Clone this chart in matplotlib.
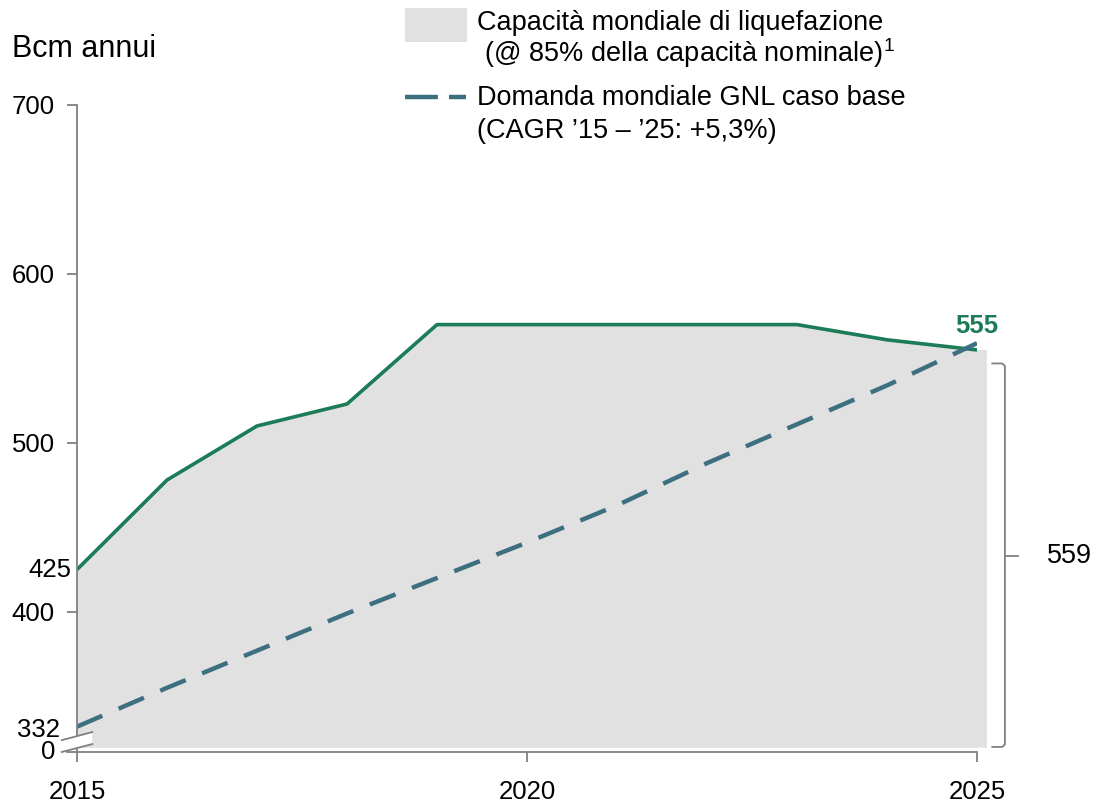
import matplotlib.pyplot as plt
from matplotlib.patches import Polygon

plt.rcParams['font.family'] = ['Liberation Sans', 'DejaVu Sans']
plt.rcParams['mathtext.fontset'] = 'custom'
plt.rcParams['mathtext.rm'] = 'Liberation Sans'
plt.rcParams['mathtext.default'] = 'regular'

years = [2015, 2016, 2017, 2018, 2019, 2020, 2021, 2022, 2023, 2024, 2025]
capacity = [425, 478, 510, 523, 570, 570, 570, 570, 570, 561, 555]
demand = [332, 355, 377, 399, 420, 441, 463, 488, 511, 534, 559]
y_ticks = [400, 500, 600, 700]
x_ticks = [2015, 2020, 2025]

green = '#1b7c57'
blue = '#3e6f81'
fill_c = '#e1e1e1'
axis_c = '#808080'
ybot = 317
fs = 18.5

fig = plt.figure(figsize=(10.95, 8.02), dpi=100)
ax = fig.add_axes([77 / 1095, 1 - 752 / 802, 900 / 1095, 647 / 802])
ax.set_xlim(2015, 2025)
ax.set_ylim(ybot, 700)

# gray capacity area, slightly past 2025
fx = years + [2025.11, 2025.11]
fy = capacity + [capacity[-1], 319.5]
poly = Polygon(list(zip(fx, fy)) + [(2015, 319.5)], closed=True, facecolor=fill_c,
               edgecolor='none', clip_on=False, zorder=1)
ax.add_patch(poly)

ax.plot(years, capacity, color=green, lw=2.6, zorder=3, solid_capstyle='butt')
ax.plot(years, demand, color=blue, lw=3.2, dashes=(6.2, 4), zorder=4)

for s in ['top', 'right']:
    ax.spines[s].set_visible(False)
ax.spines['left'].set_color(axis_c)
ax.spines['bottom'].set_color(axis_c)
ax.spines['left'].set_linewidth(1.3)
ax.spines['bottom'].set_linewidth(1.3)
ax.spines['left'].set_zorder(5)
ax.spines['bottom'].set_bounds(2014.89, 2025)

ax.set_yticks(y_ticks)
ax.set_yticklabels([str(v) for v in y_ticks], fontsize=fs)
ax.set_xticks(x_ticks)
ax.set_xticklabels([str(v) for v in x_ticks], fontsize=fs)
ax.tick_params(axis='y', length=7, width=1.3, color=axis_c, pad=9)
ax.tick_params(axis='x', length=7, width=1.3, color=axis_c, pad=13)

# extra y labels
ax.text(2014.94, capacity[0], str(capacity[0]), ha='right', va='center', fontsize=fs)
ax.text(2014.81, demand[0] - 2, str(demand[0]), ha='right', va='center', fontsize=fs)
ax.text(2014.76, ybot, '0', ha='right', va='center', fontsize=fs)

# axis break
bx = [2014.83, 2015.17]
brk = Polygon([(bx[0], 324.0), (bx[1], 328.8), (bx[1], 321.7), (bx[0], 317.0)],
              closed=True, facecolor='white', edgecolor='none', clip_on=False, zorder=6)
ax.add_patch(brk)
ax.plot(bx, [324.0, 328.8], color=axis_c, lw=1.3, clip_on=False, zorder=7)
ax.plot(bx, [317.0, 321.7], color=axis_c, lw=1.3, clip_on=False, zorder=7)

# end labels
ax.text(2025, 569, str(capacity[-1]), color=green, fontsize=fs,
        fontweight='bold', ha='center', va='center')

# bracket
bxr, bxl, bxm = 2025.31, 2025.17, 2025.46
btop, bbot = 547.0, 320.0
bmid = 433
ax.plot([bxl, bxr - 0.03, bxr, bxr, bxr - 0.03, bxl], [btop, btop, btop - 1.5, bbot + 1.5, bbot, bbot],
        color=axis_c, lw=1.3, clip_on=False)
ax.plot([bxr, bxm], [bmid, bmid], color=axis_c, lw=1.3, clip_on=False)
ax.text(2025.78, bmid, str(demand[-1]), fontsize=19.5, ha='left', va='center')

# unit label
fig.text(12 / 1095, 1 - 49 / 802, 'Bcm annui', fontsize=22, ha='left', va='center')

# legend
lfs = 19.5
fig.patches.append(Polygon([(405 / 1095, 1 - 8 / 802), (467 / 1095, 1 - 8 / 802),
                            (467 / 1095, 1 - 42 / 802), (405 / 1095, 1 - 42 / 802)],
                           closed=True, facecolor=fill_c, edgecolor='none',
                           transform=fig.transFigure))
fig.text(477 / 1095, 1 - 23 / 802, 'Capacità mondiale di liquefazione', fontsize=lfs, va='center')
fig.text(477 / 1095, 1 - 53 / 802, ' (@ 85% della capacità nominale)$^{1}$', fontsize=lfs, va='center')
fig.add_artist(plt.Line2D([405 / 1095, 466 / 1095], [1 - 97 / 802, 1 - 97 / 802],
                          color=blue, lw=3.2, dashes=(7.4, 2.5), transform=fig.transFigure))
fig.text(477 / 1095, 1 - 98 / 802, 'Domanda mondiale GNL caso base', fontsize=lfs, va='center')
fig.text(477 / 1095, 1 - 131 / 802, '(CAGR ’15 – ’25: +5,3%)', fontsize=lfs, va='center')

fig.savefig('out.png', dpi=100)
